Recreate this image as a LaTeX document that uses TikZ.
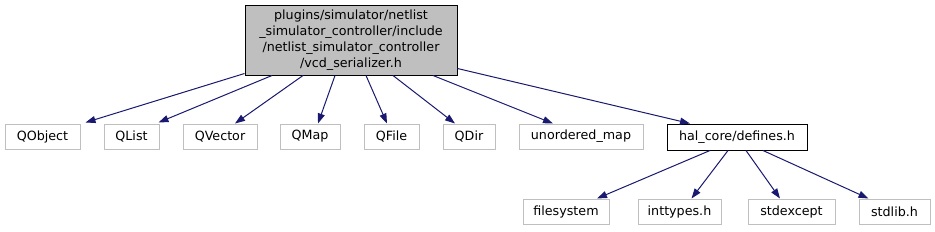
\documentclass[tikz,border=0pt]{standalone}
\usepackage{fontspec}
\setmainfont{DejaVu Sans}
\usetikzlibrary{arrows.meta}
\definecolor{edgeblue}{HTML}{191970}
\definecolor{boxgray}{HTML}{BFBFBF}
\begin{document}
\begin{tikzpicture}[x=1pt,y=-1pt,
  base/.style={draw, line width=1pt, inner sep=0pt, font=\fontsize{12.7}{15.8}\selectfont, align=center},
  ext/.style={base, draw=boxgray},
  intern/.style={base, draw=black},
  arr/.style={draw=edgeblue, line width=1pt, -{Triangle[length=10pt,width=7pt,fill=edgeblue]}}
]
\useasboundingbox (0,0) rectangle (935,231);
\node[intern, fill=boxgray, minimum width=212pt, minimum height=70pt] (main) at (351,40)
  {plugins/simulator/netlist\\\_simulator\_controller/include\\/netlist\_simulator\_controller\\/vcd\_serializer.h};
\node[ext, minimum width=75pt, minimum height=25pt] (qobject) at (42.5,136.5) {QObject};
\node[ext, minimum width=55pt, minimum height=25pt] (qlist) at (131.5,136.5) {QList};
\node[ext, minimum width=74pt, minimum height=25pt] (qvector) at (220,136.5) {QVector};
\node[ext, minimum width=60pt, minimum height=25pt] (qmap) at (310,136.5) {QMap};
\node[ext, minimum width=55pt, minimum height=25pt] (qfile) at (391.5,136.5) {QFile};
\node[ext, minimum width=52pt, minimum height=25pt] (qdir) at (469,136.5) {QDir};
\node[ext, minimum width=124pt, minimum height=25pt] (umap) at (581,136.5) {unordered\_map};
\node[intern, minimum width=140pt, minimum height=26pt] (hal) at (737,137) {hal\_core/defines.h};
\node[ext, minimum width=86pt, minimum height=25pt] (fs) at (566,211.5) {filesystem};
\node[ext, minimum width=83pt, minimum height=25pt] (inttypes) at (679.5,211.5) {inttypes.h};
\node[ext, minimum width=87pt, minimum height=25pt] (stdexcept) at (791.5,211.5) {stdexcept};
\node[ext, minimum width=71pt, minimum height=25pt] (stdlib) at (894.5,211.5) {stdlib.h};

\draw[arr] ([yshift=2pt]main.south west) -- ([xshift=5pt,yshift=1pt]qobject.north east);
\draw[arr] ([xshift=-79pt]main.south) -- ([xshift=-1pt,yshift=1pt]qlist.north east);
\draw[arr] ([xshift=-48pt]main.south) -- ([xshift=15pt]qvector.north);
\draw[arr] ([xshift=-16pt]main.south) -- ([xshift=8pt]qmap.north);
\draw[arr] ([xshift=15pt]main.south) -- ([xshift=-4.5pt]qfile.north);
\draw[arr] ([xshift=42pt]main.south) -- ([xshift=-14pt]qdir.north);
\draw[arr] ([xshift=82pt]main.south) -- ([xshift=-28pt]umap.north);
\draw[arr] ([yshift=7pt]main.south east) -- ([xshift=-47pt]hal.north);

\draw[arr] ([xshift=-27pt]hal.south) -- ([xshift=31pt]fs.north);
\draw[arr] ([xshift=-9pt]hal.south) -- ([xshift=12pt]inttypes.north);
\draw[arr] ([xshift=9pt]hal.south) -- ([xshift=-11.5pt]stdexcept.north);
\draw[arr] ([xshift=26pt]hal.south) -- ([xshift=-26pt]stdlib.north);
\end{tikzpicture}
\end{document}
